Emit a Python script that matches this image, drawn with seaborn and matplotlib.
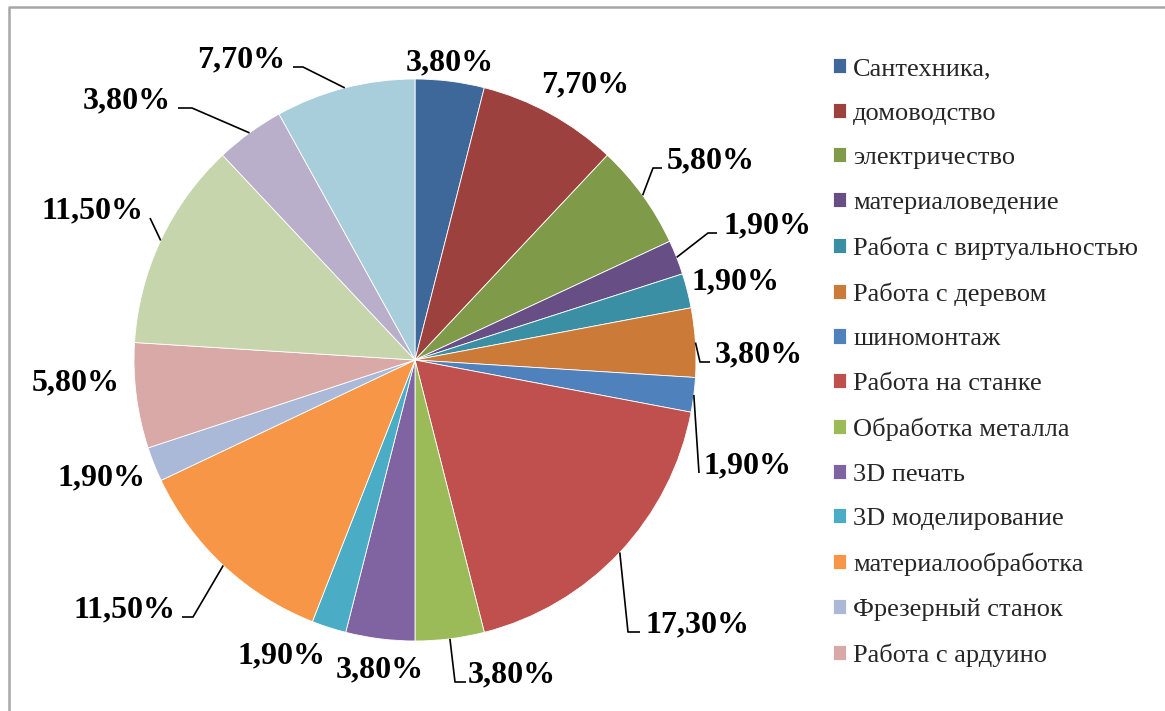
import numpy as np
import matplotlib
matplotlib.use("Agg")
import matplotlib.pyplot as plt
import seaborn as sns

# --- data -----------------------------------------------------------------
categories = [
    "Сантехника,", "домоводство", "электричество", "материаловедение",
    "Работа с виртуальностью", "Работа с деревом", "шиномонтаж",
    "Работа на станке", "Обработка металла", "3D печать", "3D моделирование",
    "материалообработка", "Фрезерный станок", "Работа с ардуино",
    "", "", "",
]
shares = [3.8, 7.7, 5.8, 1.9, 1.9, 3.8, 1.9, 17.3, 3.8, 3.8, 1.9,
          11.5, 1.9, 5.8, 11.5, 3.8, 7.7]
share_labels = ["3,80%", "7,70%", "5,80%", "1,90%", "1,90%", "3,80%", "1,90%",
                "17,30%", "3,80%", "3,80%", "1,90%", "11,50%", "1,90%",
                "5,80%", "11,50%", "3,80%", "7,70%"]
n_legend = 14  # the legend in the source is cut after 14 entries

colors = ["#3E6899", "#9D413F", "#7F9A48", "#674F85", "#3A8FA5", "#CB7A37",
          "#4F81BD", "#C0504D", "#9BBB59", "#8064A2", "#4BACC6", "#F79646",
          "#AAB9D7", "#D9A9A8", "#C6D5AC", "#B9AFCA", "#A8CEDC"]

# --- layout (pixel coordinates, y from top) --------------------------------
W, H = 1165, 711
cx, cy, radius = 415, 360, 281
# (x, baseline y, ha, elbow dx, end dx) ; elbow None -> no leader line
label_layout = [
    (450, 70, "center", None, None),
    (585, 92, "center", None, None),
    (667, 168, "left", -14, -5),
    (723, 233, "left", -15, -6),
    (736, 289, "center", None, None),
    (715, 362, "left", -15, -5),
    (704, 473, "left", -5, -5),
    (645, 632, "left", -17, -5),
    (468, 682, "left", -13, -2),
    (380, 677, "center", None, None),
    (282, 663, "center", None, None),
    (175, 617, "right", 18, 7),
    (102, 485, "center", None, None),
    (76, 390, "center", None, None),
    (143, 218, "right", 7, 7),
    (171, 108, "right", 21, 7),
    (285, 67, "right", 18, 8),
]

sns.set_theme(style="white")
plt.rcParams["font.family"] = ["Liberation Serif", "DejaVu Serif"]

fig = plt.figure(figsize=(W / 100, H / 100), dpi=100)
ax = fig.add_axes([0, 0, 1, 1])

wedges, _ = ax.pie(shares, colors=colors, startangle=90, counterclock=False,
                   center=(cx, H - cy), radius=radius,
                   wedgeprops=dict(edgecolor="white", linewidth=0.6))
ax.set_xlim(0, W)
ax.set_ylim(0, H)
ax.set_aspect("equal")
ax.axis("off")

for w, text, (lx, ly, ha, elbow, end) in zip(wedges, share_labels, label_layout):
    ty = H - ly
    ax.text(lx, ty, text, ha=ha, va="baseline", fontsize=23,
            fontweight="bold", color="black")
    if elbow is not None:
        mid = np.deg2rad((w.theta1 + w.theta2) / 2)
        px = cx + radius * np.cos(mid)
        py = (H - cy) + radius * np.sin(mid)
        ax.plot([px, lx + elbow, lx + end], [py, ty, ty],
                color="black", linewidth=1.2, solid_capstyle="butt")

# frame of the chart area (cut at right and bottom in the source)
ax.plot([9, 9, W + 5], [-5, H - 7, H - 7], color="#A6A6A6", linewidth=1.8,
        clip_on=False)

leg = ax.legend(wedges[:n_legend], categories[:n_legend], loc="upper left",
                bbox_to_anchor=(833 / W, 1 - 58 / H),
                bbox_transform=fig.transFigure, frameon=False,
                fontsize=19, handlelength=0.5, handleheight=0.5,
                handletextpad=0.27, labelspacing=0.855, borderpad=0,
                borderaxespad=0)

fig.savefig("out.png", dpi=100)
